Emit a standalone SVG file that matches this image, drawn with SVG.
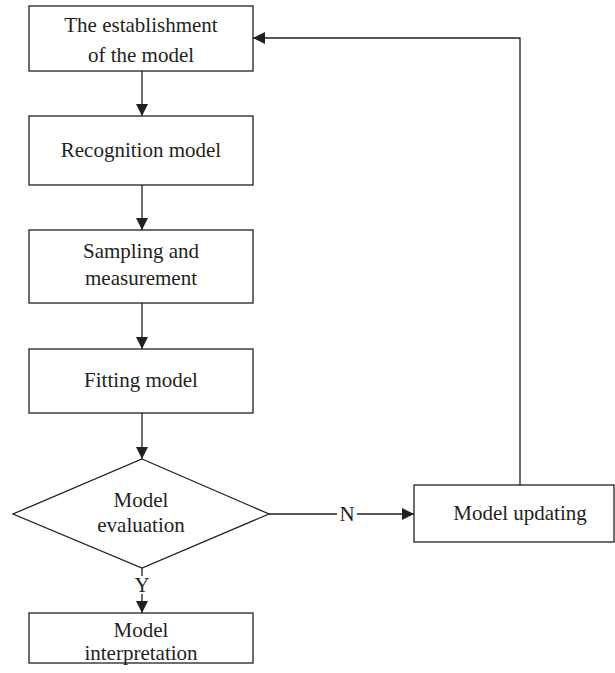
<svg xmlns="http://www.w3.org/2000/svg" width="615" height="673" viewBox="0 0 615 673">
<style>
.box{fill:#fff;stroke:#231f20;stroke-width:1.3}
.ln{fill:none;stroke:#231f20;stroke-width:1.3}
text{font-family:"Liberation Serif","Times New Roman",serif;font-size:21px;fill:#231f20;text-anchor:middle}
</style>
<defs>
<marker id="ah" markerWidth="12" markerHeight="12" viewBox="0 0 12 12" refX="12" refY="6" orient="auto" markerUnits="userSpaceOnUse">
<path d="M0,0 L12,6 L0,12 Z" fill="#231f20"/>
</marker>
</defs>
<rect width="615" height="673" fill="#fff"/>
<g id="connectors">
<line class="ln" x1="142" y1="71" x2="142" y2="116" marker-end="url(#ah)"/>
<line class="ln" x1="142" y1="185" x2="142" y2="230" marker-end="url(#ah)"/>
<line class="ln" x1="142" y1="303" x2="142" y2="349" marker-end="url(#ah)"/>
<line class="ln" x1="142" y1="413" x2="142" y2="459" marker-end="url(#ah)"/>
<line class="ln" x1="142" y1="568" x2="142" y2="576"/>
<line class="ln" x1="142" y1="594" x2="142" y2="613" marker-end="url(#ah)"/>
<line class="ln" x1="269" y1="514" x2="337" y2="514"/>
<line class="ln" x1="357" y1="514" x2="414" y2="514" marker-end="url(#ah)"/>
<polyline class="ln" points="520,485 520,38 253,38" marker-end="url(#ah)"/>
<text x="142" y="592">Y</text>
<text x="347" y="521">N</text>
</g>
<g id="establishment">
<rect class="box" x="29" y="6" width="224" height="65"/>
<text x="141" y="32">The establishment</text>
<text x="141" y="62">of the model</text>
</g>
<g id="recognition">
<rect class="box" x="29" y="116" width="224" height="69"/>
<text x="141" y="157">Recognition model</text>
</g>
<g id="sampling">
<rect class="box" x="29" y="230" width="224" height="73"/>
<text x="141" y="258">Sampling and</text>
<text x="141" y="285">measurement</text>
</g>
<g id="fitting">
<rect class="box" x="29" y="349" width="224" height="64"/>
<text x="141" y="387">Fitting model</text>
</g>
<g id="evaluation">
<polygon class="box" points="142,459 269,514 142,568 13,514"/>
<text x="141" y="507">Model</text>
<text x="141" y="532">evaluation</text>
</g>
<g id="interpretation">
<rect class="box" x="29" y="613" width="224" height="50"/>
<text x="141" y="637">Model</text>
<text x="141" y="660">interpretation</text>
</g>
<g id="updating">
<rect class="box" x="414" y="485" width="200" height="57"/>
<text x="520" y="520">Model updating</text>
</g>
</svg>
